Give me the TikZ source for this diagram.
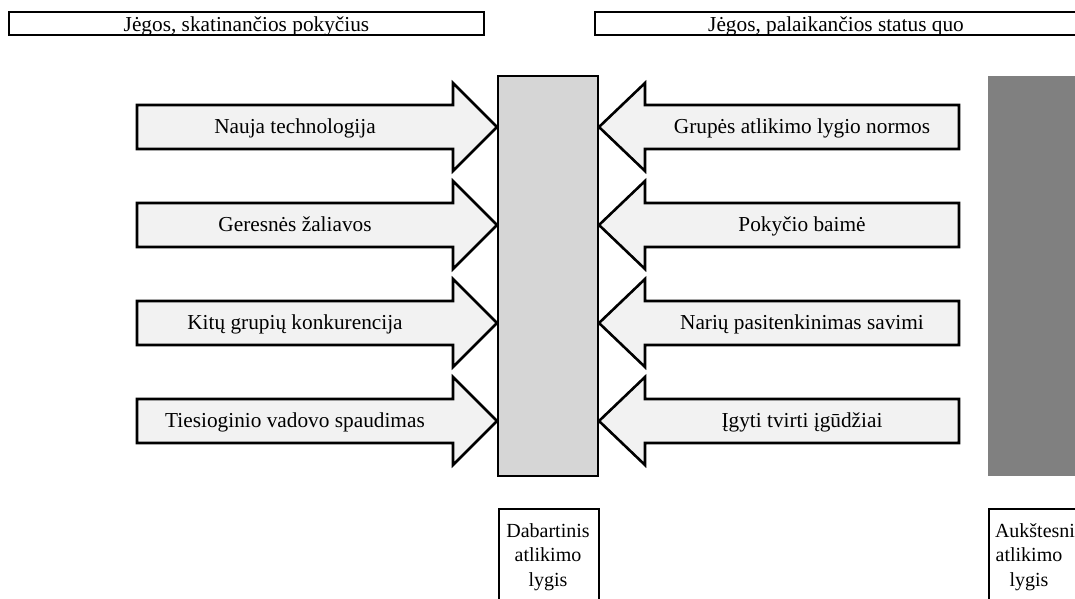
\documentclass[tikz,border=0pt]{standalone}
\usepackage{fontspec}
\setmainfont{Liberation Serif}
\definecolor{arrowfill}{HTML}{F2F2F2}
\definecolor{barlight}{HTML}{D6D6D6}
\definecolor{bardark}{HTML}{808080}
\begin{document}
\begin{tikzpicture}[x=1pt,y=-1pt,
  header/.style={draw, line width=1.8pt, minimum height=23pt, inner sep=0pt,
    text height=18pt, text depth=2pt,
    font=\fontsize{21.3}{25}\selectfont},
  force/.style={draw=black, line width=2.6pt, fill=arrowfill, line join=miter},
  lbl/.style={font=\fontsize{21.3}{25}\selectfont, inner sep=0pt},
  curbar/.style={draw, line width=1.6pt, fill=barlight, minimum width=100pt,
    minimum height=400pt, inner sep=0pt},
  hibar/.style={fill=bardark, minimum width=102pt, minimum height=400pt, inner sep=0pt},
  levelbox/.style={draw, line width=1.6pt, minimum height=100pt, inner sep=0pt},
  leveltext/.style={inner sep=0pt, align=center, font=\fontsize{20}{24.5}\selectfont}]
\useasboundingbox (0,0) rectangle (1075,598);
\clip (0,0) rectangle (1075,598);
\fill[white] (0,0) rectangle (1075,598);

% headers
\node[header, minimum width=475pt] (hl) at (246.5,23.5) {Jėgos, skatinančios pokyčius};
\node[header, minimum width=482pt] (hr) at (836,23.5) {Jėgos, palaikančios status quo};

% bars
\node[curbar] (cur) at (548,276) {};
\node[hibar] (hi) at (1039,276) {};

% left forces
\foreach \y/\t [count=\i] in {127/Nauja technologija, 225/Geresnės žaliavos,
    323/Kitų grupių konkurencija, 421/Tiesioginio vadovo spaudimas} {
  \draw[force] (137,\y-22) -- (453,\y-22) -- (453,\y-44) -- (497,\y)
     -- (453,\y+44) -- (453,\y+22) -- (137,\y+22) -- cycle;
  \node[lbl, anchor=base] (L\i) at (295,\y+6) {\t};
}

% right forces
\foreach \y/\t [count=\i] in {127/Grupės atlikimo lygio normos, 225/Pokyčio baimė,
    323/Narių pasitenkinimas savimi, 421/Įgyti tvirti įgūdžiai} {
  \draw[force] (959,\y-22) -- (645,\y-22) -- (645,\y-44) -- (599,\y)
     -- (645,\y+44) -- (645,\y+22) -- (959,\y+22) -- cycle;
  \node[lbl, anchor=base] (R\i) at (802,\y+6) {\t};
}

% level labels
\node[levelbox, anchor=north west, minimum width=100pt] (curbox) at (498,508) {};
\node[leveltext, text width=86pt, anchor=north] (curtxt) at (548,523.3)
  {Dabartinis\\atlikimo\\lygis};
\node[levelbox, anchor=north west, minimum width=102pt] (hibox) at (988,508) {};
\node[leveltext, text width=68pt, anchor=north] (hitxt) at (1029,523.3)
  {Aukštesnis\\atlikimo\\lygis};
\end{tikzpicture}
\end{document}
